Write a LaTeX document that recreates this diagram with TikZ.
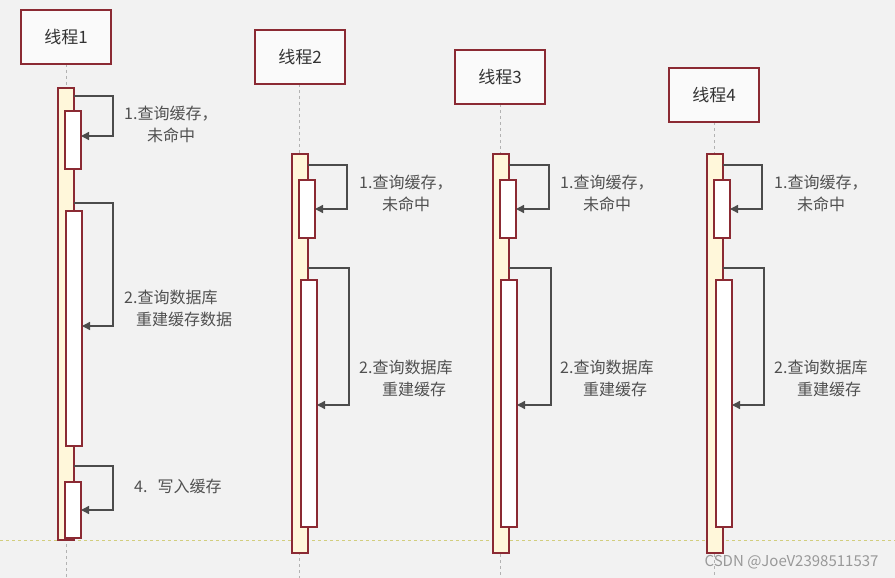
\documentclass[tikz,border=0pt]{standalone}
\usepackage{fontspec}
\setmainfont{Noto Sans CJK SC}
\usetikzlibrary{arrows.meta}
\definecolor{bord}{HTML}{8B2A33}
\definecolor{act}{HTML}{FFF7DA}
\definecolor{txt}{HTML}{505050}
\tikzset{
 hdr/.style={draw=bord,line width=1.5pt,fill=white!60!gray!10,minimum width=90pt,minimum height=54pt,font=\fontsize{17}{20}\selectfont,text=black!80},
 life/.style={dashed,draw=gray!60,line width=0.8pt},
 outer/.style={draw=bord,line width=1.2pt,fill=act},
 inner/.style={draw=bord,line width=1.2pt,fill=white},
 msg/.style={draw=black!70,line width=1.4pt,-{Triangle[length=8pt,width=8pt]}},
 lbl/.style={text=txt,font=\fontsize{16}{22}\selectfont,align=left,anchor=north west,inner sep=0pt}
}
\begin{document}
\begin{tikzpicture}[x=1pt,y=-1pt]
\fill[gray!10] (0,0) rectangle (895,578);
\useasboundingbox (0,0) rectangle (895,578);
% lifelines
\foreach \x/\t in {66/64,299/84,500/104,714/122}{\draw[life] (\x,\t) -- (\x,578);}
\draw[dashed,draw=olive!40,line width=0.8pt] (0,540) -- (895,540);
% headers
\node[hdr] (h1) at (66,37) {线程1};
\node[hdr] (h2) at (300,57) {线程2};
\node[hdr] (h3) at (500,77) {线程3};
\node[hdr] (h4) at (714,95) {线程4};
% thread 1
\draw[outer] (58,88) rectangle (74,540);
\draw[inner] (65,111) rectangle (81,169);
\draw[inner] (66,211) rectangle (82,446);
\draw[inner] (65,482) rectangle (81,538);
\coordinate (a1) at (74,96); \coordinate (b1) at (81,136);
\draw[msg] (a1) -- (113,96) -- (113,136) -- (b1);
\coordinate (a2) at (74,203); \coordinate (b2) at (82,326);
\draw[msg] (a2) -- (113,203) -- (113,326) -- (b2);
\coordinate (a3) at (74,466); \coordinate (b3) at (81,510);
\draw[msg] (a3) -- (113,466) -- (113,510) -- (b3);
\node[lbl] (l11) at (124,106) {1.查询缓存，\\\hspace*{23pt}未命中};
\node[lbl] (l12) at (124,290) {2.查询数据库\\\hspace*{12pt}重建缓存数据};
\node[lbl] (l13) at (134,479) {4.\hspace{10pt}写入缓存};
% threads 2-4
\foreach \n/\x/\ix/\jx/\ax/\lx in {2/292/299/301/347/359, 3/493/500/501/549/560, 4/707/714/716/762/774}{
 \draw[outer] (\x,154) rectangle ({\x+16},553);
 \draw[inner] (\ix,180) rectangle ({\ix+16},238);
 \draw[inner] (\jx,280) rectangle ({\jx+16},527);
 \draw[msg] ({\x+16},165) -- (\ax,165) -- (\ax,209) -- ({\ix+16},209);
 \draw[msg] ({\x+16},268) -- ({\ax+2},268) -- ({\ax+2},405) -- ({\jx+16},405);
 \node[lbl] (m1\n) at (\lx,175) {1.查询缓存，\\\hspace*{23pt}未命中};
 \node[lbl] (m2\n) at (\lx,360) {2.查询数据库\\\hspace*{23pt}重建缓存};
}
\node[text=gray!80,font=\fontsize{15}{17}\selectfont,anchor=east] (wm) at (882,562) {CSDN @JoeV2398511537};
\end{tikzpicture}
\end{document}
